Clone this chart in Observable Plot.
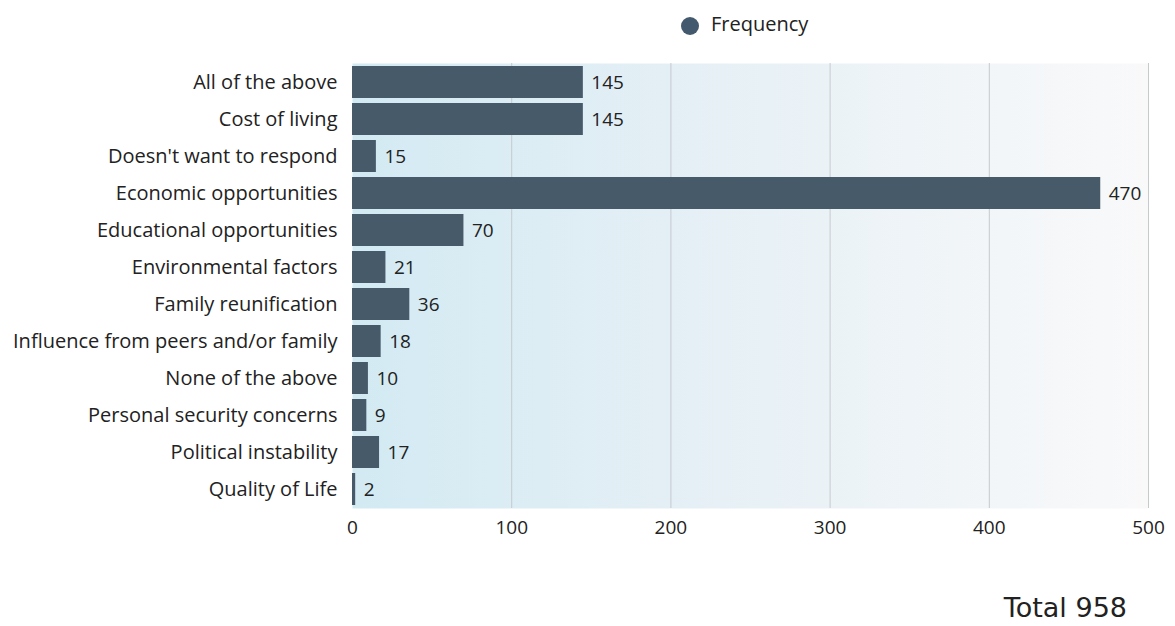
<!DOCTYPE html>
<html>
<head>
<meta charset="utf-8">
<script src="https://cdn.jsdelivr.net/npm/d3@7"></script>
<script src="https://cdn.jsdelivr.net/npm/@observablehq/plot@0.6"></script>
<style>
  html, body { margin: 0; padding: 0; background: #ffffff; }
  body { width: 1175px; height: 626px; overflow: hidden; font-family: "Open Sans", "Noto Sans", sans-serif; }
  #legend { height: 50px; position: relative; }
  #legend .sw { position: absolute; left: 681px; top: 17px; width: 18px; height: 18px; border-radius: 50%; background: #435a6e; }
  #legend .lb { position: absolute; left: 711px; top: 10px; font-size: 20px; color: #222; }
  #total { position: relative; height: 66px; }
  #total span { position: absolute; right: 48px; top: 32px; font-family: "DejaVu Sans", sans-serif; font-size: 27px; color: #222; }
</style>
</head>
<body>
<div id="legend"><div class="sw"></div><div class="lb">Frequency</div></div>
<div id="chart"></div>
<div id="total"><span>Total 958</span></div>
<script>
const categories = [
  "All of the above",
  "Cost of living",
  "Doesn't want to respond",
  "Economic opportunities",
  "Educational opportunities",
  "Environmental factors",
  "Family reunification",
  "Influence from peers and/or family",
  "None of the above",
  "Personal security concerns",
  "Political instability",
  "Quality of Life"
];
const frequency = [145, 145, 15, 470, 70, 21, 36, 18, 10, 9, 17, 2];
const xTicks = [0, 100, 200, 300, 400, 500];

const data = categories.map((c, i) => ({category: c, value: frequency[i]}));

const chart = Plot.plot({
  width: 1175,
  height: 510,
  marginLeft: 352,
  marginRight: 27,
  marginTop: 13,
  marginBottom: 52,
  style: {fontFamily: "'Open Sans', 'Noto Sans', sans-serif", fontSize: "19px", color: "#222", background: "transparent"},
  x: {domain: [0, 500], ticks: xTicks, tickSize: 0, tickPadding: 12, label: null},
  y: {domain: categories, paddingInner: 0.13, paddingOuter: 0.03, tickSize: 0, tickPadding: 15, label: null},
  marks: [
    Plot.frame({fill: "url(#bggrad)", stroke: null}),
    Plot.ruleX(xTicks.slice(1), {stroke: "#c5cacf", strokeWidth: 1}),
    Plot.barX(data, {x: "value", y: "category", fill: "#475a6a"}),
    Plot.text(data, {x: "value", y: "category", text: d => String(d.value), textAnchor: "start", dx: 8, fill: "#222", fontSize: 19})
  ]
});

const svg = d3.select(chart);
svg.selectAll("g[aria-label='y-axis tick label'] text").style("font-size", "20px");
const defs = svg.insert("defs", ":first-child");
const g = defs.append("linearGradient").attr("id", "bggrad").attr("x1", "0").attr("x2", "1").attr("y1", "0").attr("y2", "0");
g.append("stop").attr("offset", "0%").attr("stop-color", "#d3eaf3");
g.append("stop").attr("offset", "40%").attr("stop-color", "#e4eff5");
g.append("stop").attr("offset", "100%").attr("stop-color", "#f9f9fa");

document.getElementById("chart").appendChild(chart);
</script>
</body>
</html>
